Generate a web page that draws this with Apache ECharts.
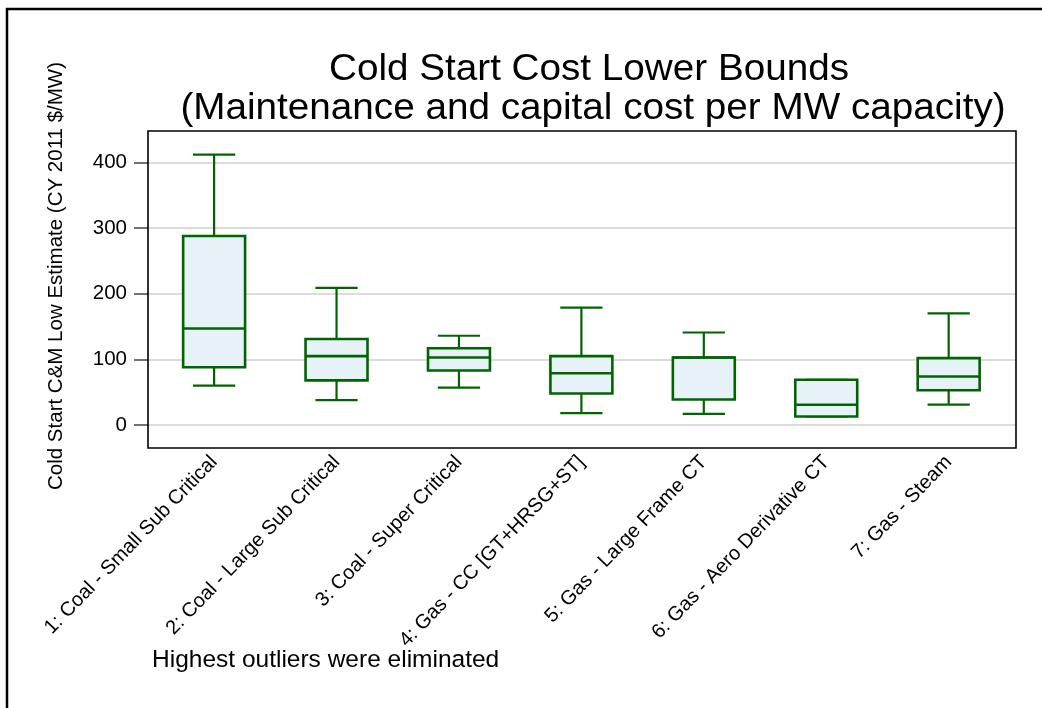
<!DOCTYPE html>
<html>
<head>
<meta charset="utf-8">
<script src="https://cdn.jsdelivr.net/npm/echarts@6/dist/echarts.min.js"></script>
<style>
  html, body { margin: 0; padding: 0; background: #fff; }
  #chart { width: 1042px; height: 708px; }
</style>
</head>
<body>
<div id="chart"></div>
<script>
// Plant categories along the x axis
const categories = [
  '1: Coal - Small Sub Critical',
  '2: Coal - Large Sub Critical',
  '3: Coal - Super Critical',
  '4: Gas - CC [GT+HRSG+ST]',
  '5: Gas - Large Frame CT',
  '6: Gas - Aero Derivative CT',
  '7: Gas - Steam'
];

// Box statistics per category ($/MW)
const lowerWhisker = [60, 38, 57, 18, 17, 13, 31];
const lowerQuartile = [88, 68, 83, 48, 39, 13, 53];
const medians = [147, 105, 103, 79, 103, 31, 74];
const upperQuartile = [288, 131, 117, 105, 103, 69, 102];
const upperWhisker = [412, 209, 136, 179, 141, 69, 170];

// Y-axis tick labels
const yTicks = [0, 100, 200, 300, 400];
// Category positions (1-based) where the x labels sit
const xTicks = categories.map((c, i) => i + 1);

const FONT = '"Liberation Sans", Arial, sans-serif';
const GREEN = '#006400';
const FILL = '#e6f2f8';

const boxData = categories.map((c, i) => [
  i + 1, lowerWhisker[i], lowerQuartile[i], medians[i], upperQuartile[i], upperWhisker[i]
]);

// One box-and-whisker glyph per category, placed through the axis scales
function renderBox(params, api) {
  const pos = api.value(0);
  const unit = api.size([1, 0])[0];
  const boxW = unit * 0.506;
  const capW = unit * 0.345;
  const lo = api.coord([pos, api.value(1)]);
  const q1 = api.coord([pos, api.value(2)]);
  const md = api.coord([pos, api.value(3)]);
  const q3 = api.coord([pos, api.value(4)]);
  const hi = api.coord([pos, api.value(5)]);
  const cx = lo[0];
  const thin = { stroke: GREEN, lineWidth: 2.2, fill: null };
  const thick = { stroke: GREEN, lineWidth: 2.6, fill: null };
  return {
    type: 'group',
    children: [
      { type: 'line', shape: { x1: cx, y1: hi[1], x2: cx, y2: q3[1] }, style: thin },
      { type: 'line', shape: { x1: cx, y1: q1[1], x2: cx, y2: lo[1] }, style: thin },
      { type: 'line', shape: { x1: cx - capW / 2, y1: hi[1], x2: cx + capW / 2, y2: hi[1] }, style: thin },
      { type: 'line', shape: { x1: cx - capW / 2, y1: lo[1], x2: cx + capW / 2, y2: lo[1] }, style: thin },
      { type: 'rect', shape: { x: cx - boxW / 2, y: q3[1], width: boxW, height: q1[1] - q3[1] },
        style: { fill: FILL, stroke: GREEN, lineWidth: 2.6 } },
      { type: 'line', shape: { x1: cx - boxW / 2, y1: md[1], x2: cx + boxW / 2, y2: md[1] }, style: thick }
    ]
  };
}

const chart = echarts.init(document.getElementById('chart'), null, { renderer: 'canvas' });

chart.setOption({
  backgroundColor: '#fff',
  animation: false,
  textStyle: { fontFamily: FONT },
  grid: { left: 148, right: 26, top: 131, bottom: 260, containLabel: false },
  xAxis: {
    type: 'value',
    min: 0.46,
    max: 7.55,
    axisLine: { show: false },
    axisTick: { show: false },
    splitLine: { show: false },
    axisLabel: {
      customValues: xTicks,
      formatter: (v) => categories[Math.round(v) - 1],
      rotate: 46,
      margin: 11,
      fontSize: 20,
      color: '#000',
      fontFamily: FONT
    }
  },
  yAxis: {
    type: 'value',
    min: -35,
    max: 448,
    axisLine: { show: false },
    axisTick: { show: true, length: 14, customValues: yTicks, lineStyle: { color: '#444', width: 1.5 } },
    axisLabel: { customValues: yTicks, fontSize: 20.5, color: '#000', margin: 21, fontFamily: FONT },
    splitLine: { show: true, lineStyle: { color: '#dcdcdc', width: 2 } }
  },
  series: [{
    type: 'custom',
    renderItem: renderBox,
    data: boxData,
    encode: { x: 0, y: [1, 2, 3, 4, 5] },
    clip: false
  }],
  graphic: [
    { type: 'rect', silent: true, z: 100,
      shape: { x: 7, y: 9, width: 1100, height: 800 },
      style: { fill: null, stroke: '#000', lineWidth: 2.5 } },
    { type: 'rect', silent: true, z: 100,
      shape: { x: 148, y: 131, width: 868, height: 317 },
      style: { fill: null, stroke: '#000', lineWidth: 1.6 } },
    { type: 'text', silent: true, x: 589, y: 70, scaleX: 1.045,
      style: { text: 'Cold Start Cost Lower Bounds', font: '37px ' + FONT, fill: '#000',
        textAlign: 'center', textVerticalAlign: 'middle' } },
    { type: 'text', silent: true, x: 593, y: 109, scaleX: 1.045,
      style: { text: '(Maintenance and capital cost per MW capacity)', font: '37px ' + FONT, fill: '#000',
        textAlign: 'center', textVerticalAlign: 'middle' } },
    { type: 'text', silent: true, x: 56, y: 276, rotation: Math.PI / 2,
      style: { text: 'Cold Start C&M Low Estimate (CY 2011 $/MW)', font: '20.5px ' + FONT, fill: '#000',
        textAlign: 'center', textVerticalAlign: 'middle' } },
    { type: 'text', silent: true, x: 152, y: 660,
      style: { text: 'Highest outliers were eliminated', font: '24.5px ' + FONT, fill: '#000',
        textAlign: 'left', textVerticalAlign: 'middle' } }
  ]
});
</script>
</body>
</html>
